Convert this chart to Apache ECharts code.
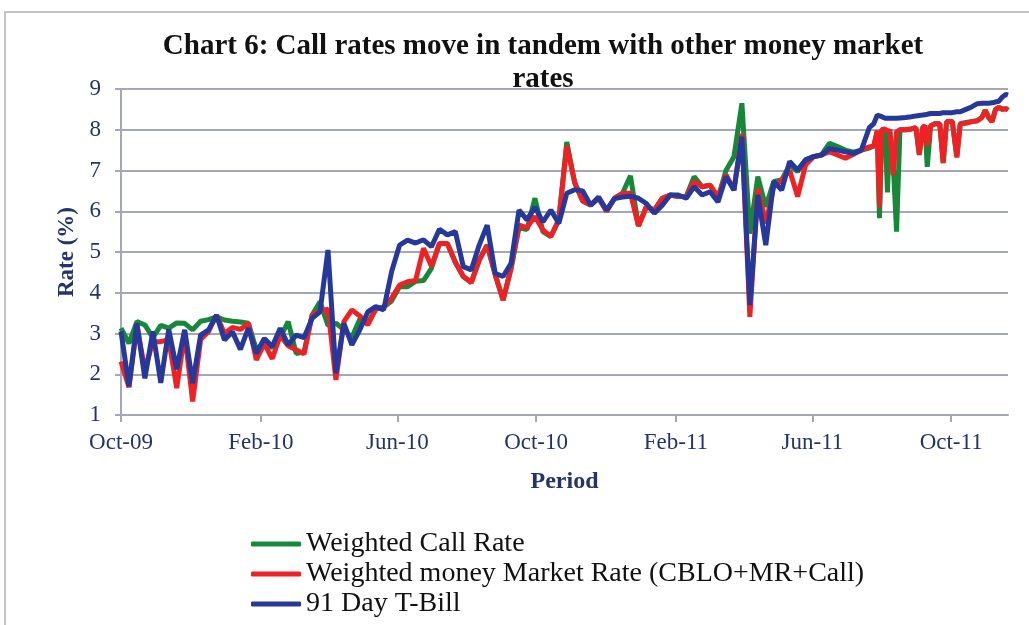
<!DOCTYPE html>
<html>
<head>
<meta charset="utf-8">
<title>Chart 6: Call rates</title>
<script src="https://cdn.jsdelivr.net/npm/echarts@6/dist/echarts.min.js"></script>
<style>
  html, body { margin: 0; padding: 0; background: #fff; }
  #chart { width: 1029px; height: 625px; }
</style>
</head>
<body>
<div id="chart"></div>
<script>
// weekly observations up to mid-July 2011, then every few days
const dates = [
  '2009-10-01', '2009-10-08', '2009-10-15', '2009-10-22', '2009-10-29', '2009-11-05', '2009-11-12', '2009-11-19', '2009-11-26', '2009-12-03',
  '2009-12-10', '2009-12-17', '2009-12-24', '2009-12-31', '2010-01-07', '2010-01-14', '2010-01-21', '2010-01-28', '2010-02-04', '2010-02-11',
  '2010-02-18', '2010-02-25', '2010-03-04', '2010-03-11', '2010-03-18', '2010-03-25', '2010-04-01', '2010-04-08', '2010-04-15', '2010-04-22',
  '2010-04-29', '2010-05-06', '2010-05-13', '2010-05-20', '2010-05-27', '2010-06-03', '2010-06-10', '2010-06-17', '2010-06-24', '2010-07-01',
  '2010-07-08', '2010-07-15', '2010-07-22', '2010-07-29', '2010-08-05', '2010-08-12', '2010-08-19', '2010-08-26', '2010-09-02', '2010-09-09',
  '2010-09-16', '2010-09-23', '2010-09-30', '2010-10-07', '2010-10-14', '2010-10-21', '2010-10-28', '2010-11-04', '2010-11-11', '2010-11-18',
  '2010-11-25', '2010-12-02', '2010-12-09', '2010-12-16', '2010-12-23', '2010-12-30', '2011-01-06', '2011-01-13', '2011-01-20', '2011-01-27',
  '2011-02-03', '2011-02-10', '2011-02-17', '2011-02-24', '2011-03-03', '2011-03-10', '2011-03-17', '2011-03-24', '2011-03-31', '2011-04-07',
  '2011-04-14', '2011-04-21', '2011-04-28', '2011-05-05', '2011-05-12', '2011-05-19', '2011-05-26', '2011-06-02', '2011-06-09', '2011-06-16',
  '2011-06-23', '2011-06-30', '2011-07-07', '2011-07-14',
  '2011-07-21', '2011-07-25', '2011-07-28', '2011-07-30', '2011-08-01', '2011-08-04', '2011-08-06', '2011-08-08', '2011-08-11', '2011-08-14',
  '2011-08-17', '2011-08-22', '2011-08-27', '2011-08-31', '2011-09-03', '2011-09-06', '2011-09-08', '2011-09-10', '2011-09-13', '2011-09-17',
  '2011-09-21', '2011-09-24', '2011-09-27', '2011-10-02', '2011-10-06', '2011-10-09', '2011-10-14', '2011-10-19', '2011-10-24', '2011-10-28',
  '2011-10-31', '2011-11-03', '2011-11-06', '2011-11-09', '2011-11-12', '2011-11-15', '2011-11-18', '2011-11-20'
];

const callRate = [
  3.13, 2.76, 3.29, 3.21, 2.9, 3.2, 3.13, 3.26, 3.25, 3.09,
  3.3, 3.34, 3.41, 3.33, 3.3, 3.28, 3.25, 2.6, 2.8, 2.65,
  2.9, 3.29, 2.51, 2.55, 3.45, 3.78, 3.2, 3.25, 3.1, 2.9,
  3.35, 3.25, 3.6, 3.65, 3.8, 4.15, 4.15, 4.28, 4.3, 4.6,
  5.2, 5.21, 4.75, 4.4, 4.25, 4.8, 5.17, 4.45, 3.82, 4.6,
  5.6, 5.55, 6.32, 5.5, 5.38, 5.79, 7.7, 6.7, 6.25, 6.15,
  6.32, 6.0, 6.32, 6.44, 6.87, 5.64, 6.11, 6.03, 6.32, 6.4,
  6.36, 6.36, 6.85, 6.6, 6.64, 6.32, 7.0, 7.34, 8.65, 5.45,
  6.85, 6.11, 6.73, 6.77, 7.14, 6.97, 7.26, 7.34, 7.38, 7.67,
  7.59, 7.5, 7.45, 7.5,
  7.55, 7.6, 7.95, 5.83, 8.0, 8.0, 6.46, 8.0, 7.2, 5.5,
  8.0, 8.0, 8.02, 8.05, 7.42, 8.05, 8.1, 7.09, 8.1, 8.15,
  8.15, 7.2, 8.2, 8.2, 7.35, 8.15, 8.18, 8.2, 8.22, 8.3,
  8.48, 8.3, 8.2, 8.5, 8.55, 8.5, 8.52, 8.48
];

const moneyMarketRate = [
  2.31, 1.68, 3.2, 2.1, 2.8, 2.8, 2.85, 1.66, 3.0, 1.33,
  2.85, 3.05, 3.45, 3.0, 3.15, 3.1, 3.25, 2.35, 2.75, 2.38,
  2.95, 2.7, 2.6, 2.5, 3.45, 3.55, 3.6, 1.86, 3.29, 3.58,
  3.43, 3.21, 3.6, 3.65, 3.87, 4.19, 4.27, 4.3, 5.09, 4.65,
  5.21, 5.21, 4.75, 4.4, 4.25, 4.8, 5.17, 4.45, 3.82, 4.6,
  5.66, 5.6, 5.87, 5.54, 5.38, 5.79, 7.6, 6.7, 6.25, 6.15,
  6.32, 6.0, 6.32, 6.44, 6.44, 5.64, 6.11, 6.03, 6.32, 6.4,
  6.36, 6.36, 6.73, 6.6, 6.64, 6.35, 6.9, 6.52, 7.9, 3.41,
  6.56, 5.7, 6.6, 6.77, 7.0, 6.36, 7.14, 7.34, 7.38, 7.46,
  7.38, 7.3, 7.4, 7.5,
  7.58, 7.6, 7.98, 6.1, 8.0, 8.02, 7.95, 8.0, 6.89, 7.95,
  8.0, 8.0, 8.02, 8.05, 7.38, 8.05, 8.1, 7.6, 8.1, 8.15,
  8.15, 7.18, 8.2, 8.2, 7.32, 8.15, 8.16, 8.2, 8.22, 8.3,
  8.48, 8.3, 8.2, 8.5, 8.55, 8.5, 8.52, 8.48
];

const tBill91 = [
  3.05, 1.71, 3.25, 1.9, 3.05, 1.79, 3.1, 2.12, 3.09, 1.78,
  2.96, 3.09, 3.45, 2.84, 3.04, 2.61, 3.13, 2.51, 2.88, 2.68,
  3.13, 2.72, 2.96, 2.9, 3.37, 3.53, 5.05, 2.02, 3.25, 2.72,
  3.09, 3.53, 3.66, 3.58, 4.52, 5.17, 5.29, 5.22, 5.3, 5.13,
  5.56, 5.42, 5.5, 4.64, 4.56, 5.17, 5.66, 4.48, 4.4, 4.72,
  6.03, 5.79, 6.1, 5.74, 6.03, 5.7, 6.44, 6.53, 6.5, 6.15,
  6.35, 6.03, 6.31, 6.35, 6.37, 6.32, 6.19, 5.95, 6.15, 6.4,
  6.4, 6.32, 6.6, 6.4, 6.48, 6.23, 6.85, 6.52, 7.83, 3.7,
  6.4, 5.17, 6.73, 6.52, 7.22, 7.01, 7.26, 7.34, 7.38, 7.54,
  7.5, 7.46, 7.42, 7.5,
  8.05, 8.15, 8.36, 8.34, 8.32, 8.28, 8.28, 8.28, 8.28, 8.28,
  8.29, 8.3, 8.32, 8.34, 8.35, 8.36, 8.37, 8.38, 8.4, 8.4,
  8.4, 8.42, 8.42, 8.42, 8.44, 8.44, 8.5, 8.56, 8.64, 8.65,
  8.65, 8.65, 8.66, 8.68, 8.7, 8.8, 8.87, 8.85
];

const tickDates = ['2009-10-01', '2010-02-01', '2010-06-01', '2010-10-01', '2011-02-01', '2011-06-01', '2011-10-01'];
const tickLabels = ['Oct-09', 'Feb-10', 'Jun-10', 'Oct-10', 'Feb-11', 'Jun-11', 'Oct-11'];

const labelColor = '#23346a';
const gridColor = '#a3a7b6';
const serif = '"Liberation Serif", "DejaVu Serif", serif';
const DAY = 24 * 3600 * 1000;

// x position = days since the first observation (date axis like Excel's)
function dayNo(s) {
  const p = s.split('-');
  return Math.round((Date.UTC(+p[0], +p[1] - 1, +p[2]) - Date.UTC(2009, 9, 1)) / DAY);
}

function pairs(values) {
  return values.map((v, i) => [dayNo(dates[i]), v]);
}

const ticks = tickDates.map(dayNo);

const chart = echarts.init(document.getElementById('chart'), null, { renderer: 'canvas' });

chart.setOption({
  animation: false,
  backgroundColor: '#fff',
  title: {
    text: 'Chart 6: Call rates move in tandem with other money market\nrates',
    left: 538,
    textAlign: 'center',
    top: 25,
    textStyle: {
      fontFamily: serif,
      fontWeight: 'bold',
      fontSize: 29,
      lineHeight: 33,
      color: '#111'
    }
  },
  graphic: [{
    type: 'rect',
    shape: { x: 5, y: 12, width: 1040, height: 640 },
    style: { fill: 'none', stroke: '#c4c4c4', lineWidth: 2 },
    silent: true
  }],
  legend: {
    orient: 'vertical',
    left: 246,
    top: 525,
    height: 110,
    itemWidth: 50,
    itemHeight: 5,
    itemGap: 2,
    icon: 'roundRect',
    textStyle: {
      fontFamily: serif,
      fontSize: 28,
      lineHeight: 28,
      color: '#111'
    },
    data: ['Weighted Call Rate', 'Weighted money Market Rate (CBLO+MR+Call)', '91 Day T-Bill']
  },
  grid: {
    left: 121,
    right: 21,
    top: 89,
    bottom: 210,
    containLabel: false
  },
  xAxis: {
    type: 'value',
    min: 0,
    max: dayNo(dates[dates.length - 1]),
    name: 'Period',
    nameLocation: 'middle',
    nameGap: 55,
    nameTextStyle: {
      fontFamily: serif,
      fontWeight: 'bold',
      fontSize: 24,
      color: labelColor
    },
    axisLine: { lineStyle: { color: gridColor, width: 2 } },
    axisTick: {
      show: true,
      customValues: ticks,
      length: 7,
      lineStyle: { color: gridColor, width: 2 }
    },
    axisLabel: {
      customValues: ticks,
      margin: 16,
      fontFamily: serif,
      fontSize: 23,
      color: labelColor,
      formatter: function (v) {
        return tickLabels[ticks.indexOf(v)];
      }
    },
    splitLine: { show: false }
  },
  yAxis: {
    type: 'value',
    min: 1,
    max: 9,
    interval: 1,
    name: 'Rate (%)',
    nameLocation: 'middle',
    nameGap: 40,
    nameTextStyle: {
      fontFamily: serif,
      fontWeight: 'bold',
      fontSize: 23,
      color: labelColor
    },
    axisLine: { show: true, lineStyle: { color: gridColor, width: 2 } },
    axisTick: { show: true, length: 6, lineStyle: { color: gridColor, width: 2 } },
    axisLabel: {
      margin: 20,
      fontFamily: serif,
      fontSize: 23,
      color: labelColor
    },
    splitLine: { lineStyle: { color: gridColor, width: 2 } }
  },
  series: [
    {
      name: 'Weighted Call Rate',
      type: 'line',
      data: pairs(callRate),
      showSymbol: false,
      color: '#17883a',
      lineStyle: { width: 5, color: '#17883a' }
    },
    {
      name: 'Weighted money Market Rate (CBLO+MR+Call)',
      type: 'line',
      data: pairs(moneyMarketRate),
      showSymbol: false,
      color: '#ee2124',
      lineStyle: { width: 5, color: '#ee2124' }
    },
    {
      name: '91 Day T-Bill',
      type: 'line',
      data: pairs(tBill91),
      showSymbol: false,
      color: '#26399a',
      lineStyle: { width: 5, color: '#26399a' }
    }
  ]
});
</script>
</body>
</html>
